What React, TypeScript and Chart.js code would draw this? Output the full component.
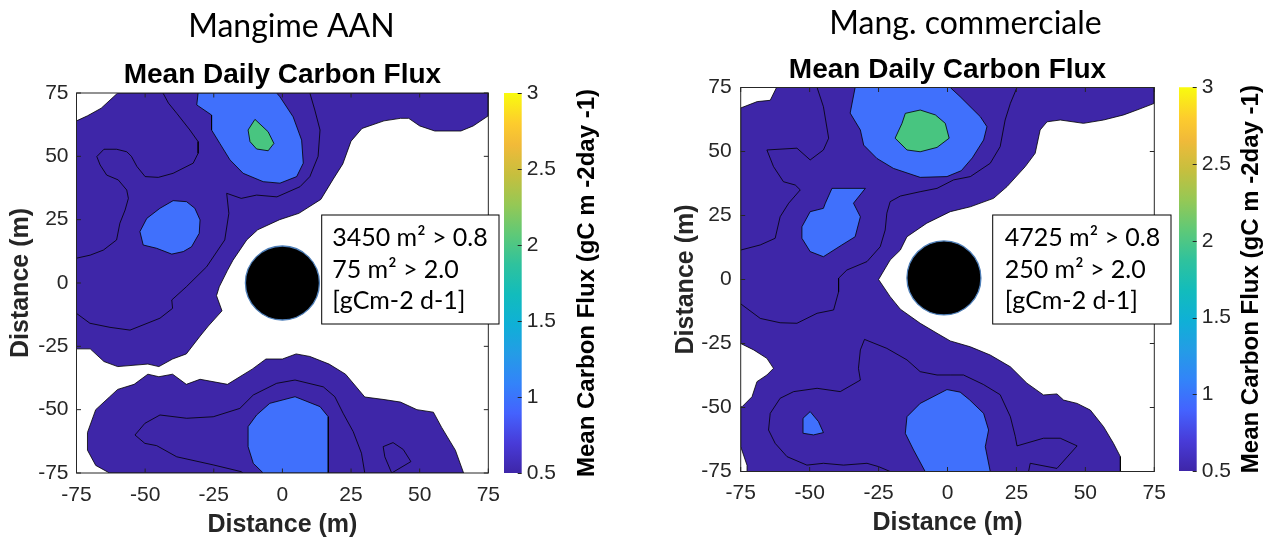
import React, { useEffect, useRef } from 'react';
import { Chart, registerables } from 'chart.js';

Chart.register(...registerables);

type P = [number, number];

// ---------- shared axis / colorbar data ----------
const axisMin = -75;
const axisMax = 75;
const axisTicks = [-75, -50, -25, 0, 25, 50, 75];
const barMin = 0.5;
const barMax = 3;
const barTicks = [0.5, 1, 1.5, 2, 2.5, 3];

const xLabel = 'Distance (m)';
const yLabel = 'Distance (m)';
const subtitleText = 'Mean Daily Carbon Flux';
const barLabel = 'Mean Carbon Flux (gC m -2day -1)';

// parula colormap stops (fraction of colorbar range)
const parulaStops: [number, string][] = [
  [0.0, '#3e26a8'],
  [0.078, '#483bd8'],
  [0.157, '#4462fe'],
  [0.235, '#3383f9'],
  [0.314, '#249ce6'],
  [0.392, '#0fb0d6'],
  [0.47, '#12bcbc'],
  [0.549, '#2fc29d'],
  [0.627, '#5ec978'],
  [0.706, '#95c855'],
  [0.784, '#c6bf3e'],
  [0.863, '#f1ba39'],
  [0.92, '#fdcc2d'],
  [1.0, '#f9fb0e'],
];

// ---------- Panel 1: Mangime AAN ----------
const aanTitle = 'Mangime AAN';
const aanInfo = ['3450 m² > 0.8', '75 m² > 2.0', '[gCm-2 d-1]'];
const aanLowA: P[] = [
  [-75, 64], [-71, 66], [-66, 69], [-60, 75], [75, 75], [75, 66], [69.5, 62], [65, 60], [55.5, 60],
  [50, 62], [46, 65], [43, 65], [37, 64], [29, 61], [25, 56], [22, 47], [18.5, 41], [14, 33],
  [6, 27.5], [-1, 25], [-9, 21], [-13, 17], [-18, 9], [-20, 5], [-23, -1.5], [-24, -5], [-22, -11],
  [-27, -17], [-30, -21], [-35, -28], [-40, -30], [-45, -33], [-49, -32], [-60, -33], [-65, -31],
  [-70, -26], [-75, -26],
];
const aanLowB: P[] = [
  [-63, -75], [-68, -72], [-71, -66], [-71, -59], [-68, -50], [-63, -45], [-60, -42], [-54, -40],
  [-49, -36], [-45, -37], [-40, -36], [-35, -40], [-30, -38], [-20, -40], [-11, -34], [-6, -30],
  [0, -30], [5, -28], [10, -29], [17, -32], [23, -36], [30, -45], [37, -46], [43, -47], [49, -50],
  [55, -51], [58, -57], [63, -66], [66, -75],
];
const aanLine1: P[] = [
  [-43.5, 75], [-41.5, 71], [-38.5, 67], [-33.7, 60.4], [-30.7, 55.8], [-30.7, 51.2], [-32.5, 47.3],
  [-39.8, 43.3], [-45.2, 41.7], [-50, 42], [-53, 46], [-55, 50], [-56.7, 51.8], [-60.4, 52.8],
  [-65, 52.8], [-67.6, 49.9], [-66.4, 46.6], [-64, 42.6], [-59.8, 40.7], [-56.7, 36.7], [-56.1, 33.4],
  [-57.3, 28.8], [-59.2, 23.6], [-60.4, 17], [-65.2, 13], [-70, 11], [-75, 9.8],
];
const aanLine2: P[] = [
  [10, 75], [11.8, 68.3], [13.7, 60.4], [13, 50], [10, 42], [6.4, 38], [-2, 34], [-9.4, 34.7],
  [-15, 33.4], [-20.3, 35.4], [-19.5, 27.5], [-21, 17], [-27.6, 6.4], [-35, -1.5], [-40.3, -6.7],
  [-40, -10], [-44.6, -13.9], [-55.5, -18.6], [-62.8, -17.5], [-70.1, -15.9], [-75, -12],
];
const aanLine3: P[] = [
  [-14.5, -75], [-14.9, -74.5], [-25.2, -71.8], [-38.5, -68.6], [-45.8, -64.2], [-50.1, -63.3],
  [-53.7, -60], [-50.1, -55.4], [-44.6, -52.1], [-34.9, -53.4], [-25.2, -52.8], [-15.5, -49.5],
  [-10.6, -44.2], [-2.1, -39.6], [4.6, -38.3], [14.9, -41], [19.1, -44.9], [22.1, -51.4],
  [25.8, -58.7], [28.8, -67.2], [30, -75],
];
const aanLine4: P[] = [
  [39.8, -75], [37.3, -68.6], [36.7, -64.6], [40.3, -63], [44, -65.7], [46.8, -70.5], [39.8, -75],
];
const aanMidA: P[] = [
  [-30.7, 75], [-31.2, 70.3], [-25.8, 66.3], [-25.8, 60.4], [-22.8, 55.1], [-19.1, 48.6], [-14.3, 43.3],
  [-7, 40], [-0.9, 39.4], [5.2, 42], [7.6, 47.3], [7, 56.4], [3.9, 65.6], [-0.9, 73.5], [-2.1, 75],
];
const aanMidB: P[] = [
  [-39.8, 32.5], [-34.9, 32.1], [-31.9, 29.5], [-30, 24.9], [-30.3, 19.6], [-33.1, 14.3], [-36.1, 12.4],
  [-40.3, 11.4], [-45.8, 13.7], [-50.7, 15], [-51.9, 20.3], [-49.4, 25.5], [-44.6, 29.5],
];
const aanMidC: P[] = [
  [-7, -75], [-10.6, -71.2], [-12.5, -64.6], [-12.5, -56.7], [-9.4, -52.1], [-4.6, -47.5], [4.6, -44.9],
  [13.7, -48.8], [16.7, -52.8], [16.7, -75],
];
const aanHigh: P[] = [
  [-10, 64.6], [-5.2, 59.7], [-3.1, 55.1], [-5.2, 52.2], [-9.4, 52.9], [-11.8, 55.8], [-12.5, 60.4],
];
const aanTower: P = [0, 0];

// ---------- Panel 2: Mang. commerciale ----------
const comTitle = 'Mang. commerciale';
const comInfo = ['4725 m² > 0.8', '250 m² > 2.0', '[gCm-2 d-1]'];
const comLow: P[] = [
  [-75, 67], [-69, 69.5], [-64.3, 70], [-62, 75], [75, 75], [75, 68.8], [68.7, 66.2], [63.9, 64.3],
  [56.6, 62.3], [49.3, 61], [40.9, 62.3], [36.1, 61.6], [33.6, 58.4], [31.8, 49.3], [28.2, 44.1],
  [21.6, 36.3], [16.7, 31.7], [8.3, 28.4], [1, 26.5], [-7.5, 22], [-14.7, 16.7], [-17.1, 11.5],
  [-20.8, 7.6], [-25, 0], [-20.8, -6.7], [-17.1, -11.6], [-9.9, -17.1], [-3.8, -21], [1, -24],
  [8.3, -26.3], [15.5, -29.5], [22.8, -34.1], [28.8, -40.5], [34.8, -45.1], [39.7, -44.7],
  [42.1, -47.1], [47, -48.4], [51.8, -51], [56.6, -57.5], [60.2, -64], [62.7, -69.2], [62.7, -75],
  [-72.5, -75], [-72.7, -72.6], [-75, -65.3], [-75, -49.7], [-74.5, -49.7], [-70.9, -45.8],
  [-69.1, -39.9], [-65.5, -37.3], [-63.1, -34.7], [-65.5, -30.8], [-70.3, -27.5], [-75, -25],
];
const comLine1: P[] = [
  [-47.3, 75], [-45, 67.5], [-43.1, 55.2], [-45, 50.6], [-49.8, 46.7], [-54.6, 51.3], [-65.5, 50.6],
  [-63.1, 44.1], [-59.5, 38.2], [-55.2, 36.9], [-53.4, 35], [-57.6, 29.8], [-60.7, 24.5], [-62.5, 16.1],
  [-67.9, 13.5], [-75, 11.5],
];
const comLine2: P[] = [
  [25.2, 75], [22.8, 68.8], [20.9, 62.3], [19.1, 51.9], [15.5, 45.4], [8.3, 40.2], [2.2, 38.9],
  [-3.8, 35.6], [-9.9, 34.3], [-17.1, 32.6], [-20.8, 30.4], [-22, 25.9], [-22.6, 19.3], [-24.4, 12.8],
  [-29.2, 7], [-36.5, 3.7], [-39.5, 0.5], [-39.5, -4.8], [-41.3, -11.9], [-47.3, -13.2], [-54.6, -17.1],
  [-60.7, -16.9], [-67.9, -15.2], [-75, -9.5],
];
const comLine3: P[] = [
  [-20.8, -75], [-25, -73.1], [-29.2, -71.8], [-37.7, -72.5], [-45, -71.8], [-51, -72.5], [-58.2, -69.2],
  [-62.5, -64], [-64.9, -58.8], [-64.3, -52.3], [-60.7, -46.4], [-55.8, -43.8], [-47.3, -42.5],
  [-38.9, -43.8], [-31.6, -39.3], [-32.3, -34.7], [-31.6, -27.5], [-30.1, -23.4], [-22, -26.9],
  [-14.7, -31.4], [-9.9, -36], [-3.8, -37.3], [1, -37.3], [5.8, -37.3], [13, -41], [19.1, -45],
  [22.8, -53.6], [24.6, -61.4], [25.2, -65], [34.8, -62], [40.9, -62], [47, -65], [39.7, -73.8],
  [30, -71.8], [29.4, -75],
];
const comMidA: P[] = [
  [-33.5, 75], [-35.3, 65], [-31.6, 58.4], [-30.4, 52.5], [-25.6, 47.3], [-19.6, 43.4], [-9.9, 39.9],
  [-0.2, 40.2], [5, 42.5], [9, 47.5], [13.1, 54.5], [14.3, 59.7], [11.9, 63.6], [4.6, 71.4], [1, 75],
];
const comMidB: P[] = [
  [-41.9, 35.6], [-29.8, 35.6], [-34.1, 29.8], [-31.6, 24.5], [-33.5, 16.7], [-38.3, 13.5], [-45, 8.9],
  [-49.8, 10.9], [-52.8, 16.1], [-52.8, 20.6], [-49.8, 26.5], [-45, 27.8], [-44.3, 29.8],
];
const comMidC: P[] = [
  [-8.1, -75], [-12.3, -66.6], [-15.3, -60.1], [-14.7, -53.6], [-9.9, -48.4], [-0.2, -43], [4.6, -44],
  [8, -47], [13.1, -52.3], [14.9, -58.8], [13.7, -65.3], [15.5, -75],
];
const comMidD: P[] = [
  [-49.8, -51.6], [-46.8, -55.5], [-45, -59.8], [-48.6, -60.7], [-52.2, -60.1], [-52.4, -54.2],
];
const comHigh: P[] = [
  [-15.3, 64.9], [-9.9, 66.2], [-4.4, 64.3], [-0.8, 61], [0.6, 55.2], [-3.8, 51.6], [-9.9, 49.9],
  [-14.7, 50.6], [-19, 55.2], [-16.5, 61],
];
const comTower: P = [-1.3, 0.6];

// ---------- styling ----------
const SANS = "'Liberation Sans', Arial, Helvetica, sans-serif";
const CAL = "Lato, 'Open Sans', sans-serif";
const INK = '#262626';
const LOW = '#3e26a8';
const MID = '#4070fc';
const HIGH = '#48c580';

const toXY = (p: P[], closed: boolean) => {
  const pts = p.map(([x, y]) => ({ x, y }));
  if (closed) pts.push({ ...pts[0] });
  return pts;
};
const shapeSet = (p: P[], color: string, order: number) => ({
  data: toXY(p, true), showLine: true, fill: 'shape', backgroundColor: color,
  borderColor: '#000', borderWidth: 0.8, pointRadius: 0, pointHoverRadius: 0, tension: 0, order,
});
const lineSet = (p: P[], order: number) => ({
  data: toXY(p, false), showLine: true, fill: false, borderColor: '#000', borderWidth: 0.8,
  pointRadius: 0, pointHoverRadius: 0, tension: 0, order,
});
const towerSet = (c: P, order: number) => ({
  data: [{ x: c[0], y: c[1] }], showLine: false, pointRadius: 37, pointHoverRadius: 37,
  pointBackgroundColor: '#000', pointBorderColor: '#4f7fb8', pointBorderWidth: 1.3, order,
});

type PlotCfg = {
  title: string; info: string[]; datasets: any[];
  padRight: number; yWidth: number; xHeight: number;
  captionDx: number; captionY: number; subTop: number; subBottom: number;
  xTickPad: number; xTitleBottom: number; yTickPad: number; yTitleTop: number;
  box: { dx: number; dy: number; w: number; h: number; tx: number; base: number[] };
};

function buildPlot(canvas: HTMLCanvasElement, cfg: PlotCfg) {
  const frame = {
    id: 'frame',
    afterDatasetsDraw(chart: any) {
      const { ctx, chartArea: a, scales } = chart;
      const L = 4.5;
      ctx.save();
      ctx.strokeStyle = INK;
      ctx.lineWidth = 1;
      ctx.beginPath();
      for (const t of scales.x.ticks) {
        const px = scales.x.getPixelForValue(t.value);
        ctx.moveTo(px, a.bottom); ctx.lineTo(px, a.bottom - L);
        ctx.moveTo(px, a.top); ctx.lineTo(px, a.top + L);
      }
      for (const t of scales.y.ticks) {
        const py = scales.y.getPixelForValue(t.value);
        ctx.moveTo(a.left, py); ctx.lineTo(a.left + L, py);
        ctx.moveTo(a.right, py); ctx.lineTo(a.right - L, py);
      }
      ctx.stroke();
      ctx.strokeRect(a.left, a.top, a.right - a.left, a.bottom - a.top);
      ctx.restore();
    },
  };
  const caption = {
    id: 'caption',
    afterDraw(chart: any) {
      const { ctx, chartArea: a } = chart;
      ctx.save();
      ctx.font = `32px ${CAL}`;
      ctx.fillStyle = '#000';
      ctx.textAlign = 'center';
      ctx.textBaseline = 'middle';
      ctx.fillText(cfg.title, (a.left + a.right) / 2 + cfg.captionDx, cfg.captionY);
      ctx.restore();
    },
  };
  const infoBox = {
    id: 'infoBox',
    afterDraw(chart: any) {
      const { ctx, chartArea: a } = chart;
      const b = cfg.box;
      const x = a.left + b.dx;
      const y = a.top + b.dy;
      ctx.save();
      ctx.fillStyle = '#fff';
      ctx.fillRect(x, y, b.w, b.h);
      ctx.strokeStyle = '#000';
      ctx.lineWidth = 1;
      ctx.strokeRect(x, y, b.w, b.h);
      ctx.fillStyle = '#000';
      ctx.font = `25px ${CAL}`;
      ctx.textAlign = 'left';
      ctx.textBaseline = 'alphabetic';
      cfg.info.forEach((t, i) => ctx.fillText(t, x + b.tx, y + b.base[i]));
      ctx.restore();
    },
  };
  const tickFont = { family: SANS, size: 21 };
  const titleFont = { family: SANS, size: 25, weight: 'bold' as const };
  return new Chart(canvas, {
    type: 'scatter',
    data: { datasets: cfg.datasets as any },
    options: {
      responsive: false,
      animation: false,
      events: [],
      layout: { autoPadding: false, padding: { left: 0, right: cfg.padRight, top: 0, bottom: 0 } },
      plugins: {
        legend: { display: false },
        tooltip: { enabled: false },
        title: {
          display: true, text: subtitleText, fullSize: false, color: '#000',
          font: { family: SANS, size: 28, weight: 'bold' as any, lineHeight: 1.2 },
          padding: { top: cfg.subTop, bottom: cfg.subBottom },
        },
      },
      scales: {
        x: {
          type: 'linear', min: axisMin, max: axisMax,
          afterBuildTicks: (s: any) => { s.ticks = axisTicks.map((v) => ({ value: v })); },
          afterFit: (s: any) => { s.height = cfg.xHeight; },
          ticks: { font: tickFont, color: INK, padding: cfg.xTickPad, maxRotation: 0, autoSkip: false, callback: (v: any) => String(v) },
          grid: { display: false, drawTicks: false },
          border: { display: false },
          title: { display: true, text: xLabel, color: INK, font: titleFont, padding: { top: 0, bottom: cfg.xTitleBottom } },
        },
        y: {
          type: 'linear', min: axisMin, max: axisMax,
          afterBuildTicks: (s: any) => { s.ticks = axisTicks.map((v) => ({ value: v })); },
          afterFit: (s: any) => { s.width = cfg.yWidth; },
          ticks: { font: tickFont, color: INK, padding: cfg.yTickPad, autoSkip: false, callback: (v: any) => String(v) },
          grid: { display: false, drawTicks: false },
          border: { display: false },
          title: { display: true, text: yLabel, color: INK, font: titleFont, padding: { top: cfg.yTitleTop, bottom: 0 } },
        },
      },
    },
    plugins: [frame, caption, infoBox],
  } as any);
}

type BarCfg = { padLeft: number; padRight: number; padTop: number; padBottom: number; axisWidth: number; labelOffset: number };

function buildBar(canvas: HTMLCanvasElement, cfg: BarCfg) {
  const inner = {
    id: 'barTicks',
    afterDatasetsDraw(chart: any) {
      const { ctx, chartArea: a, scales } = chart;
      ctx.save();
      ctx.strokeStyle = INK;
      ctx.lineWidth = 1;
      ctx.beginPath();
      for (const t of scales.y.ticks) {
        const py = Math.round(scales.y.getPixelForValue(t.value)) + 0.5;
        ctx.moveTo(a.right, py); ctx.lineTo(a.right - 4, py);
      }
      ctx.stroke();
      ctx.restore();
    },
  };
  const label = {
    id: 'barLabel',
    afterDraw(chart: any) {
      const { ctx, chartArea: a } = chart;
      ctx.save();
      ctx.translate(a.right + cfg.labelOffset, (a.top + a.bottom) / 2);
      ctx.rotate(-Math.PI / 2);
      ctx.font = `bold 24px ${SANS}`;
      ctx.fillStyle = '#000';
      ctx.textAlign = 'center';
      ctx.textBaseline = 'middle';
      ctx.fillText(barLabel, 0, 0);
      ctx.restore();
    },
  };
  return new Chart(canvas, {
    type: 'bar',
    data: {
      labels: [''],
      datasets: [{
        data: [[barMin, barMax]] as any,
        borderWidth: 0,
        barPercentage: 1,
        categoryPercentage: 1,
        backgroundColor: (c: any) => {
          const chart = c.chart;
          const y = chart.scales && chart.scales.y;
          if (!y || !chart.chartArea) return parulaStops[0][1];
          const g = chart.ctx.createLinearGradient(0, y.getPixelForValue(barMin), 0, y.getPixelForValue(barMax));
          parulaStops.forEach(([t, col]) => g.addColorStop(t, col));
          return g;
        },
      }],
    },
    options: {
      responsive: false,
      animation: false,
      events: [],
      layout: { autoPadding: false, padding: { left: cfg.padLeft, right: cfg.padRight, top: cfg.padTop, bottom: cfg.padBottom } },
      plugins: { legend: { display: false }, tooltip: { enabled: false }, title: { display: false } },
      scales: {
        x: { display: false },
        y: {
          position: 'right', min: barMin, max: barMax,
          afterBuildTicks: (s: any) => { s.ticks = barTicks.map((v) => ({ value: v })); },
          afterFit: (s: any) => { s.width = cfg.axisWidth; },
          ticks: { font: { family: SANS, size: 21 }, color: INK, padding: 5, autoSkip: false, callback: (v: any) => String(v) },
          grid: { display: false, drawTicks: false },
          border: { display: false },
        },
      },
    },
    plugins: [inner, label],
  } as any);
}

function ChartCanvas({ left, width, make }: { left: number; width: number; make: (c: HTMLCanvasElement) => Chart }) {
  const ref = useRef<HTMLCanvasElement | null>(null);
  useEffect(() => {
    if (!ref.current) return;
    const chart = make(ref.current);
    return () => chart.destroy();
  }, []);
  return (
    <canvas ref={ref} width={width} height={541}
      style={{ position: 'absolute', left, top: 0, width, height: 541, display: 'block' }} />
  );
}

const aanDatasets = [
  towerSet(aanTower, 10),
  shapeSet(aanHigh, HIGH, 20),
  shapeSet(aanMidA, MID, 30),
  shapeSet(aanMidB, MID, 30),
  shapeSet(aanMidC, MID, 30),
  lineSet(aanLine1, 40),
  lineSet(aanLine2, 40),
  lineSet(aanLine3, 40),
  lineSet(aanLine4, 40),
  shapeSet(aanLowA, LOW, 50),
  shapeSet(aanLowB, LOW, 50),
];

const comDatasets = [
  towerSet(comTower, 10),
  shapeSet(comHigh, HIGH, 20),
  shapeSet(comMidA, MID, 30),
  shapeSet(comMidB, MID, 30),
  shapeSet(comMidC, MID, 30),
  shapeSet(comMidD, MID, 30),
  lineSet(comLine1, 40),
  lineSet(comLine2, 40),
  lineSet(comLine3, 40),
  shapeSet(comLow, LOW, 50),
];

export default function App() {
  return (
    <div style={{ position: 'absolute', left: 0, top: 0, width: 1271, height: 541, background: '#fff', overflow: 'hidden' }}>
      <ChartCanvas left={0} width={510} make={(c) => buildPlot(c, {
        title: aanTitle, info: aanInfo, datasets: aanDatasets,
        padRight: 21.5, yWidth: 76.5, xHeight: 68,
        captionDx: 9, captionY: 27, subTop: 58.7, subBottom: 0.7,
        xTickPad: 10, xTitleBottom: 1, yTickPad: 8, yTitleTop: 6.5,
        box: { dx: 245.2, dy: 122, w: 177.3, h: 109, tx: 10.5, base: [31, 62.5, 94] },
      })} />
      <ChartCanvas left={480} width={160} make={(c) => buildBar(c, {
        padLeft: 24, padRight: 78.3, padTop: 93, padBottom: 68, axisWidth: 40, labelOffset: 65.3,
      })} />
      <ChartCanvas left={664} width={512} make={(c) => buildPlot(c, {
        title: comTitle, info: comInfo, datasets: comDatasets,
        padRight: 21.7, yWidth: 76.7, xHeight: 69.5,
        captionDx: 18, captionY: 24, subTop: 53.2, subBottom: 0.7,
        xTickPad: 9.2, xTitleBottom: 3, yTickPad: 9, yTitleTop: 7,
        box: { dx: 252, dy: 127.5, w: 178.3, h: 109, tx: 12, base: [31, 62.5, 94] },
      })} />
      <ChartCanvas left={1150} width={121} make={(c) => buildBar(c, {
        padLeft: 29, padRight: 34.3, padTop: 87.3, padBottom: 70, axisWidth: 40, labelOffset: 54.3,
      })} />
    </div>
  );
}
